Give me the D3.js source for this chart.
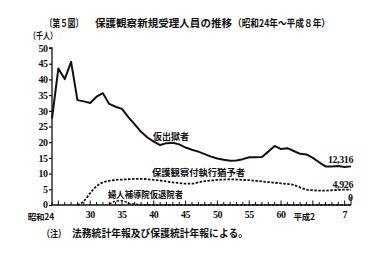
<!DOCTYPE html>
<html><head><meta charset="utf-8">
<script src="https://cdn.jsdelivr.net/npm/d3@7"></script>
<style>
html,body{margin:0;padding:0;background:#fff;}
svg{display:block;}
.cjk{font-family:"Noto Sans CJK JP","Noto Sans",sans-serif;font-weight:bold;fill:#111;}
.num{font-family:"Liberation Serif","DejaVu Serif",serif;font-weight:bold;fill:#111;}
</style>
</head><body>
<script>
// Showa years 24..71 (71 = Heisei 8)
const years = d3.range(24, 72);
const parole = [27.5,43.5,40.1,45.6,33.4,33.0,32.5,34.5,35.6,32.2,31.3,30.6,28.0,25.7,23.3,21.5,20.2,19.1,19.7,19.8,19.3,18.3,17.6,17.0,16.2,15.4,14.8,14.4,14.1,14.2,14.6,15.2,15.2,15.3,17.0,18.8,17.8,18.1,17.2,16.3,16.1,15.0,13.6,12.3,12.3,12.4,12.1,12.3];
const probation = [0,0,0,0,0,1.2,3.8,6.0,7.2,7.7,8.0,8.1,8.2,8.3,8.3,8.2,8.0,7.8,7.5,7.2,7.0,6.8,6.8,7.2,7.6,7.8,8.0,8.1,8.2,8.1,8.0,7.9,7.7,7.5,7.3,7.1,6.9,6.7,6.4,5.6,4.9,4.7,4.6,4.6,4.7,4.8,4.9,4.9];
const womenYears = d3.range(33, 72);
const women = [0.3,1.2,1.4,0.6,0.3,0.1,0,0,0,0,0,0,0,0,0,0,0,0,0,0,0,0,0,0,0,0,0,0,0,0,0,0,0,0,0,0,0,0,0];
const yTicks = [0,5,10,15,20,25,30,35,40,45,50];
const xTickVals = [24,30,35,40,45,50,55,60,65,70];
const xTickLabels = ["昭和24","30","35","40","45","50","55","60","平成2","7"];
const seriesNames = ["仮出獄者","保護観察付執行猶予者","婦人補導院仮退院者"];
const endLabels = ["12,316","4,926","0"];
const titleParts = ["〔第５図〕","保護観察新規受理人員の推移","（昭和24年～平成８年）"];
const unitLabel = "（千人）";
const noteParts = ["（注）","法務統計年報及び保護統計年報による。"];

const W = 389, H = 275;
const svg = d3.select("body").append("svg").attr("width", W).attr("height", H);

const x = d3.scaleLinear().domain([24, 71]).range([52, 351]);
const y = d3.scaleLinear().domain([0, 50]).range([205, 48]);

// title
svg.append("text").attr("class","cjk").attr("x",45).attr("y",27).attr("font-size",10)
  .attr("textLength",38).attr("lengthAdjust","spacingAndGlyphs").text(titleParts[0]);
svg.append("text").attr("class","cjk").attr("x",95).attr("y",27).attr("font-size",10.5)
  .attr("textLength",137).attr("lengthAdjust","spacingAndGlyphs").text(titleParts[1]);
svg.append("text").attr("class","cjk").attr("x",233).attr("y",27).attr("font-size",10)
  .attr("textLength",97).attr("lengthAdjust","spacingAndGlyphs").text(titleParts[2]);

// unit
svg.append("text").attr("class","cjk").attr("x",29).attr("y",39).attr("font-size",9)
  .attr("textLength",28).attr("lengthAdjust","spacingAndGlyphs").text(unitLabel);

// y axis
const yAxis = d3.axisLeft(y).tickValues(yTicks).tickSize(3).tickPadding(1.5).tickFormat(d3.format("d"));
const gy = svg.append("g").attr("transform","translate(52,0)").call(yAxis);
gy.select(".domain").attr("stroke","#111").attr("stroke-width",1.3).attr("d","M-3,48H0V205");
gy.selectAll(".tick line").attr("stroke","#111").attr("stroke-width",1.2);
gy.selectAll(".tick text").attr("class","num").attr("font-size",10).attr("font-family",null)
  .attr("dy", d => d === 0 ? "0.2em" : "0.32em").style("letter-spacing","-0.5px");

// x axis (ticks upward)
const gx = svg.append("g").attr("transform","translate(0,205)");
gx.append("line").attr("x1",52).attr("x2",351).attr("stroke","#111").attr("stroke-width",1.4);
gx.selectAll("line.t").data(years).enter().append("line").attr("class","t")
  .attr("x1",d=>x(d)).attr("x2",d=>x(d)).attr("y1",0)
  .attr("y2",d=> d===71 ? -8 : (d%5===0 ? -4.5 : -3))
  .attr("stroke","#111").attr("stroke-width",1);
xTickVals.forEach((v,i)=>{
  const lab = xTickLabels[i];
  const isCjk = /[^0-9]/.test(lab);
  svg.append("text").attr("class", isCjk ? "cjk" : "num")
    .attr("x", isCjk ? x(v)+2 : x(v)).attr("y", isCjk ? 219.8 : 217.5)
    .attr("font-size", isCjk ? 8.5 : 10)
    .attr("text-anchor", isCjk ? "end" : "middle")
    .style("letter-spacing", isCjk ? "-0.2px" : "-0.5px")
    .text(lab);
});

// lines
const line = d3.line().x(d=>x(d[0])).y(d=>y(d[1]));
svg.append("path").datum(years.map((yr,i)=>[yr,parole[i]]))
  .attr("d",line).attr("fill","none").attr("stroke","#111").attr("stroke-width",2)
  .attr("stroke-linejoin","round");
svg.append("path").datum(years.map((yr,i)=>[yr,probation[i]]).filter(d=>d[0]>=28))
  .attr("d",d3.line().x(d=>x(d[0])).y(d=>y(d[1])).curve(d3.curveMonotoneX))
  .attr("fill","none").attr("stroke","#111").attr("stroke-width",1.8).attr("stroke-dasharray","2.5,1.5");
svg.append("path").datum(womenYears.map((yr,i)=>[yr,women[i]]))
  .attr("d",d3.line().x(d=>x(d[0])).y(d=>y(d[1])).curve(d3.curveMonotoneX))
  .attr("fill","none").attr("stroke","#111").attr("stroke-width",1.4).attr("stroke-dasharray","2.5,1.5");

// series labels
svg.append("text").attr("class","cjk").attr("x",153).attr("y",140).attr("font-size",9)
  .attr("textLength",36).attr("lengthAdjust","spacingAndGlyphs").text(seriesNames[0]);
svg.append("text").attr("class","cjk").attr("x",152).attr("y",176).attr("font-size",9)
  .attr("textLength",93).attr("lengthAdjust","spacingAndGlyphs").text(seriesNames[1]);
svg.append("text").attr("class","cjk").attr("x",108).attr("y",197.5).attr("font-size",9)
  .attr("textLength",75).attr("lengthAdjust","spacingAndGlyphs").text(seriesNames[2]);

// end values
svg.append("text").attr("class","num").attr("x",353).attr("y",163).attr("font-size",10)
  .attr("text-anchor","end").style("letter-spacing","-0.4px").text(endLabels[0]);
svg.append("text").attr("class","num").attr("x",353).attr("y",188).attr("font-size",10)
  .attr("text-anchor","end").style("letter-spacing","-0.4px").text(endLabels[1]);
svg.append("text").attr("class","num").attr("x",353).attr("y",201).attr("font-size",10)
  .attr("text-anchor","end").text(endLabels[2]);

// note
svg.append("text").attr("class","cjk").attr("x",42).attr("y",237).attr("font-size",9.5)
  .attr("textLength",24).attr("lengthAdjust","spacingAndGlyphs").text(noteParts[0]);
svg.append("text").attr("class","cjk").attr("x",72).attr("y",237).attr("font-size",10)
  .attr("textLength",176).attr("lengthAdjust","spacingAndGlyphs").text(noteParts[1]);
</script>
</body></html>
